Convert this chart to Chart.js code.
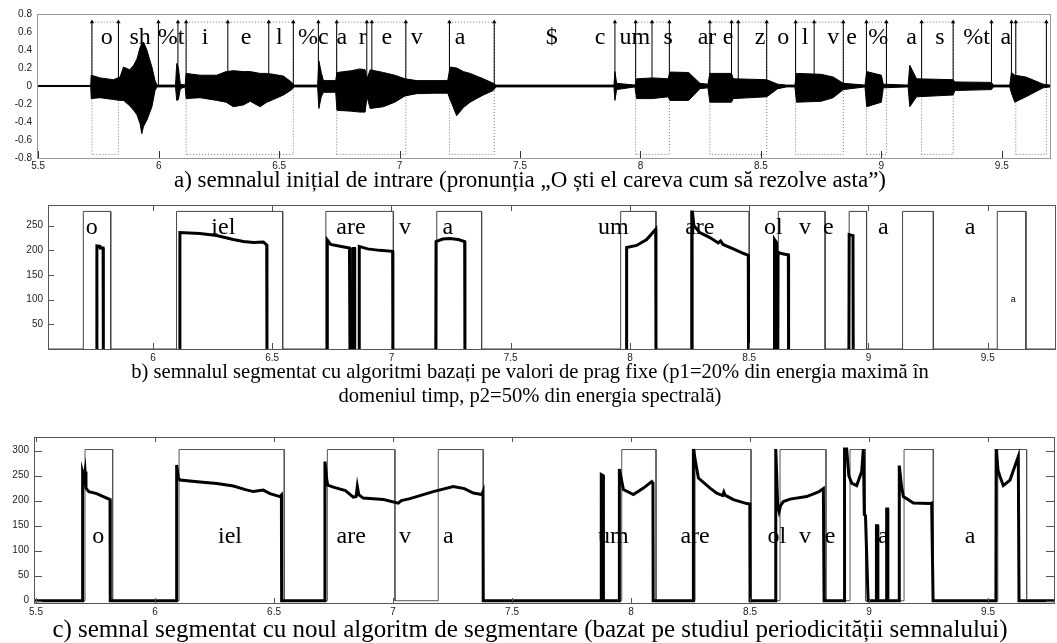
<!DOCTYPE html>
<html>
<head>
<meta charset="utf-8">
<script src="https://cdn.jsdelivr.net/npm/chart.js@4.4.1/dist/chart.umd.min.js"></script>
<style>
body { margin: 0; background: #fff; width: 1057px; height: 643px; position: relative; overflow: hidden; }
canvas { position: absolute; left: 0; }
.cap { position: absolute; left: 0; width: 1060px; text-align: center; font-family: 'Liberation Serif', 'Times New Roman', serif; font-size: 21px; line-height: 24px; color: #000; white-space: nowrap; }
</style>
</head>
<body>
<canvas id="chartA" width="1057" height="172" style="top:0px"></canvas>
<div class="cap" style="top:168px; font-size:23px">a) semnalul inițial de intrare (pronunția „O ști el careva cum să rezolve asta”)</div>
<canvas id="chartB" width="1057" height="173" style="top:190px"></canvas>
<div class="cap" style="top:359px; font-size:20.6px">b) semnalul segmentat cu algoritmi bazați pe valori de prag fixe (p1=20% din energia maximă în<br>domeniul timp, p2=50% din energia spectrală)</div>
<canvas id="chartC" width="1057" height="192" style="top:425px"></canvas>
<div class="cap" style="top:617px; font-size:25px">c) semnal segmentat cu noul algoritm de segmentare (bazat pe studiul periodicității semnalului)</div>

<script>
// ---------- a) input signal (envelope read off the plot) ----------
const waveTime = [5.495, 5.718, 5.720, 5.757, 5.812, 5.840, 5.854, 5.880, 5.896, 5.910, 5.923, 5.930, 5.937, 5.951, 5.972, 5.985, 5.993,
  6.070, 6.075, 6.082, 6.090, 6.110, 6.114, 6.172, 6.241, 6.280, 6.310, 6.352, 6.380, 6.421, 6.449, 6.476, 6.518, 6.553, 6.562,
  6.660, 6.665, 6.675, 6.684, 6.735, 6.740, 6.800, 6.836, 6.857, 6.865, 6.878, 6.933, 6.980, 7.023, 7.071, 7.150, 7.200,
  7.210, 7.237, 7.265, 7.293, 7.320, 7.348, 7.389, 7.400, 7.890, 7.894, 7.901, 7.977, 7.984, 8.050, 8.115, 8.122, 8.200,
  8.247, 8.280, 8.288, 8.378, 8.385, 8.524, 8.570, 8.607, 8.641, 8.648, 8.750, 8.800, 8.842, 8.932, 8.939, 9.000, 9.008,
  9.111, 9.118, 9.146, 9.298, 9.305, 9.457, 9.465, 9.533, 9.540, 9.554, 9.600, 9.672, 9.700];
const waveUpper = [0.006, 0.006, 0.12, 0.09, 0.07, 0.10, 0.21, 0.18, 0.23, 0.30, 0.43, 0.47, 0.49, 0.40, 0.21, 0.06, 0.01,
  0.01, 0.25, 0.20, 0.02, 0.01, 0.14, 0.12, 0.12, 0.16, 0.17, 0.16, 0.16, 0.14, 0.14, 0.13, 0.11, 0.04, 0.01,
  0.01, 0.28, 0.15, 0.06, 0.06, 0.15, 0.17, 0.19, 0.18, 0.08, 0.18, 0.15, 0.12, 0.08, 0.06, 0.06, 0.06,
  0.21, 0.20, 0.16, 0.14, 0.11, 0.08, 0.03, 0.01, 0.01, 0.16, 0.03, 0.01, 0.08, 0.09, 0.08, 0.155, 0.15,
  0.03, 0.02, 0.14, 0.14, 0.08, 0.07, 0.02, 0.01, 0.01, 0.14, 0.13, 0.10, 0.03, 0.01, 0.16, 0.12, 0.02,
  0.01, 0.23, 0.08, 0.07, 0.045, 0.04, 0.01, 0.01, 0.15, 0.12, 0.10, 0.02, 0.01];
const waveLower = [-0.006, -0.006, -0.14, -0.13, -0.15, -0.16, -0.16, -0.22, -0.27, -0.32, -0.42, -0.53, -0.45, -0.38, -0.23, -0.05, -0.01,
  -0.01, -0.16, -0.15, -0.03, -0.01, -0.14, -0.13, -0.16, -0.18, -0.23, -0.21, -0.17, -0.23, -0.18, -0.15, -0.10, -0.04, -0.01,
  -0.01, -0.25, -0.12, -0.07, -0.07, -0.27, -0.28, -0.29, -0.29, -0.12, -0.25, -0.23, -0.18, -0.11, -0.085, -0.08, -0.08,
  -0.15, -0.33, -0.24, -0.18, -0.14, -0.10, -0.05, -0.01, -0.01, -0.16, -0.04, -0.01, -0.14, -0.14, -0.12, -0.16, -0.16,
  -0.03, -0.02, -0.18, -0.18, -0.14, -0.12, -0.03, -0.01, -0.01, -0.18, -0.17, -0.13, -0.04, -0.01, -0.23, -0.18, -0.02,
  -0.01, -0.23, -0.12, -0.10, -0.05, -0.04, -0.01, -0.01, -0.08, -0.18, -0.12, -0.02, -0.01];

const markerTimes = [5.723, 5.833, 5.999, 6.080, 6.114, 6.287, 6.457, 6.559, 6.663, 6.739, 6.864, 6.885, 7.026, 7.207, 7.393,
  7.894, 7.980, 8.048, 8.120, 8.288, 8.378, 8.406, 8.524, 8.644, 8.721, 8.842, 8.938, 9.021, 9.167, 9.298, 9.457, 9.540, 9.558, 9.685];
const markerTop = 0.71;
const boxBottom = -0.76;
const boxStartA = [5.723, 6.114, 6.739, 7.207, 7.980, 8.288, 8.644, 8.938, 9.167, 9.558];
const boxEndA = [5.833, 6.559, 7.026, 7.393, 8.120, 8.524, 8.842, 9.021, 9.298, 9.685];
const phonemesA = ['o', 'sh', '%t', 'i', 'e', 'l', '%c', 'a', 'r', 'e', 'v', 'a', '$', 'c', 'um', 's', 'ar', 'e', 'z', 'o', 'l', 'v', 'e', '%', 'a', 's', '%t', 'a'];
const phonemeTimesA = [5.785, 5.923, 6.052, 6.193, 6.363, 6.501, 6.642, 6.760, 6.847, 6.947, 7.071, 7.251, 7.632, 7.832, 7.977, 8.115,
  8.276, 8.364, 8.496, 8.593, 8.683, 8.800, 8.876, 8.987, 9.125, 9.243, 9.395, 9.517];
const xTicksA = [5.5, 6, 6.5, 7, 7.5, 8, 8.5, 9, 9.5];
const yTicksA = [-0.8, -0.6, -0.4, -0.2, 0, 0.2, 0.4, 0.6, 0.8];

// ---------- b) fixed threshold segmentation ----------
const segStartB = [5.708, 6.099, 6.725, 7.190, 7.961, 8.265, 8.622, 8.919, 9.143, 9.540];
const segEndB = [5.823, 6.544, 7.008, 7.378, 8.109, 8.500, 8.818, 8.992, 9.272, 9.660];
const rectTopB = 279;
const energyTimeB = [5.764, 5.765, 5.778, 5.779, 5.791, 5.792, 5.80,
  6.112, 6.113, 6.197, 6.267, 6.337, 6.379, 6.421, 6.463, 6.472, 6.477, 6.478, 6.6,
  6.730, 6.731, 6.745, 6.790, 6.824, 6.826, 6.83,
  6.838, 6.839, 6.845, 6.846, 6.85,
  6.864, 6.865, 6.900, 6.950, 7.005, 7.006, 7.1,
  7.186, 7.187, 7.215, 7.245, 7.280, 7.307, 7.308, 7.5,
  7.985, 7.986, 8.028, 8.070, 8.108, 8.109, 8.2,
  8.258, 8.259, 8.262, 8.268, 8.293, 8.335, 8.370, 8.380, 8.390, 8.433, 8.470, 8.496, 8.497, 8.55,
  8.605, 8.606, 8.614, 8.615, 8.618,
  8.620, 8.621, 8.640, 8.650, 8.664, 8.665, 8.8,
  8.918, 8.919, 8.935, 8.936];
const energyValB = [0, 209, 208, 205, 205, 0, null,
  0, 236, 234, 230, 222, 218, 216, 217, 213, 211, 0, null,
  0, 221, 212, 208, 205, 0, null,
  0, 204, 204, 0, null,
  0, 208, 203, 200, 198, 0, null,
  0, 218, 223, 224, 222, 218, 0, null,
  0, 206, 210, 222, 243, 0, null,
  0, 278, 278, 250, 236, 226, 215, 219, 212, 203, 195, 190, 0, null,
  0, 222, 216, 0, null,
  0, 196, 193, 192, 191, 0, null,
  0, 232, 230, 0];
const labelsB = ['o', 'iel', 'are', 'v', 'a', 'um', 'are', 'ol', 'v', 'e', 'a', 'a'];
const labelTimesB = [5.743, 6.295, 6.830, 7.057, 7.236, 7.930, 8.293, 8.601, 8.734, 8.832, 9.062, 9.426];
const xTicksB = [6, 6.5, 7, 7.5, 8, 8.5, 9, 9.5];
const yTicksB = [50, 100, 150, 200, 250];

// ---------- c) periodicity based segmentation ----------
const segStartC = [5.706, 6.101, 6.724, 7.190, 7.961, 8.269, 8.626, 8.920, 9.147, 9.541];
const segEndC = [5.822, 6.543, 7.008, 7.379, 8.105, 8.504, 8.819, 8.985, 9.270, 9.662];
const rectTopC = 302;
const energyTimeC = [5.490, 5.695, 5.696, 5.702, 5.706, 5.710, 5.722, 5.755, 5.783, 5.811, 5.812,
  6.090, 6.091, 6.098, 6.105, 6.189, 6.260, 6.329, 6.380, 6.413, 6.455, 6.483, 6.525, 6.531, 6.532,
  6.713, 6.714, 6.722, 6.726, 6.749, 6.800, 6.833, 6.845, 6.850, 6.856, 6.875, 6.960, 7.022, 7.035, 7.071, 7.169, 7.253, 7.300, 7.337, 7.373, 7.378, 7.379,
  7.874, 7.875, 7.883, 7.884,
  7.950, 7.951, 7.968, 8.010, 8.052, 8.087, 8.092, 8.093,
  8.261, 8.262, 8.270, 8.283, 8.332, 8.360, 8.385, 8.390, 8.395, 8.430, 8.486, 8.499, 8.500,
  8.607, 8.608, 8.612, 8.616, 8.622, 8.628, 8.640, 8.668, 8.738, 8.790, 8.808, 8.811,
  8.895, 8.897, 8.906, 8.915, 8.927, 8.948, 8.969, 8.976, 8.980, 8.985, 8.996,
  9.030, 9.031, 9.036, 9.037, 9.073, 9.074, 9.078, 9.079,
  9.126, 9.127, 9.136, 9.144, 9.186, 9.256, 9.263, 9.269,
  9.533, 9.534, 9.542, 9.550, 9.564, 9.592, 9.627, 9.630, 9.777];
const energyValC = [0, 0, 256, 245, 258, 225, 218, 214, 208, 202, 0,
  0, 271, 245, 241, 237, 234, 229, 222, 218, 221, 214, 208, 211, 0,
  0, 278, 240, 231, 227, 220, 207, 208, 228, 212, 205, 202, 195, 200, 204, 218, 228, 224, 215, 212, 218, 0,
  0, 252, 250, 0,
  0, 263, 222, 212, 225, 238, 235, 0,
  0, 303, 280, 245, 225, 215, 210, 217, 211, 202, 194, 193, 0,
  0, 303, 250, 190, 178, 190, 198, 203, 208, 218, 224, 0,
  0, 303, 303, 250, 235, 230, 258, 303, 172, 170, 0,
  0, 150, 150, 0, 0, 183, 183, 0,
  0, 270, 230, 208, 195, 194, 195, 0,
  0, 303, 260, 248, 230, 241, 288, 0, 0];
const labelsC = ['o', 'iel', 'are', 'v', 'a', 'um', 'are', 'ol', 'v', 'e', 'a', 'a'];
const labelTimesC = [5.762, 6.315, 6.824, 7.050, 7.232, 7.926, 8.269, 8.612, 8.731, 8.836, 9.060, 9.424];
const xTicksC = [5.5, 6, 6.5, 7, 7.5, 8, 8.5, 9, 9.5];
const yTicksC = [0, 50, 100, 150, 200, 250, 300];

// ---------- helpers ----------
function pts(xs, ys) {
  return xs.map((x, i) => ({ x: x, y: ys[i] }));
}

function squareWave(starts, ends, top, x0, x1) {
  const out = [{ x: x0, y: 0 }];
  starts.forEach((s, i) => {
    out.push({ x: s, y: 0 }, { x: s, y: top }, { x: ends[i], y: top }, { x: ends[i], y: 0 });
  });
  out.push({ x: x1, y: 0 });
  return out;
}

// box + inward tick marks, like the matlab axes
const framePlugin = {
  id: 'frame',
  afterDraw(chart, args, o) {
    const { ctx, chartArea: a, scales: { x, y } } = chart;
    ctx.save();
    ctx.strokeStyle = o.color;
    ctx.lineWidth = 1;
    ctx.strokeRect(a.left + 0.5, a.top + 0.5, a.right - a.left, a.bottom - a.top);
    ctx.strokeStyle = o.tickColor || o.color;
    ctx.beginPath();
    o.xTicks.forEach(v => {
      const px = Math.round(x.getPixelForValue(v)) + 0.5;
      if (o.xBottom) { ctx.moveTo(px, a.bottom); ctx.lineTo(px, a.bottom - o.xLen); }
      if (o.xTop) { ctx.moveTo(px, a.top); ctx.lineTo(px, a.top + o.xLen); }
    });
    o.yTicks.forEach(v => {
      const py = Math.round(y.getPixelForValue(v)) + 0.5;
      if (o.yLeft) { ctx.moveTo(a.left, py); ctx.lineTo(a.left + o.yLen, py); }
      if (o.yRight) { ctx.moveTo(a.right, py); ctx.lineTo(a.right - o.yLen, py); }
    });
    ctx.stroke();
    ctx.restore();
  }
};

// phoneme labels placed with the chart's own scales
const textPlugin = {
  id: 'phonemes',
  afterDatasetsDraw(chart, args, o) {
    const { ctx, scales: { x, y } } = chart;
    ctx.save();
    ctx.fillStyle = '#000';
    ctx.textAlign = 'center';
    ctx.textBaseline = 'alphabetic';
    ctx.font = o.font;
    o.labels.forEach((s, i) => {
      ctx.fillText(s, x.getPixelForValue(o.times[i]), y.getPixelForValue(o.level));
    });
    if (o.small) {
      ctx.font = o.small.font;
      ctx.textBaseline = 'middle';
      ctx.fillText(o.small.text, x.getPixelForValue(o.small.x), y.getPixelForValue(o.small.y));
    }
    ctx.restore();
  }
};

const tickFont = { family: "'Liberation Sans', Arial, sans-serif", size: 10 };
const serif = "24px 'Liberation Serif', 'Times New Roman', serif";

function xAxis(min, max, ticks, height, pad) {
  return {
    type: 'linear', min: min, max: max,
    afterBuildTicks: s => { s.ticks = ticks.map(v => ({ value: v })); },
    afterFit: s => { s.height = height; },
    grid: { display: false, drawTicks: false },
    border: { display: false },
    ticks: { font: tickFont, color: '#222', padding: pad, maxRotation: 0, autoSkip: false, callback: v => String(v) }
  };
}

function yAxis(min, max, ticks, width, fmt) {
  return {
    min: min, max: max,
    afterBuildTicks: s => { s.ticks = ticks.map(v => ({ value: v })); },
    afterFit: s => { s.width = width; },
    grid: { display: false, drawTicks: false },
    border: { display: false },
    ticks: { font: tickFont, color: '#222', padding: 5, autoSkip: false, callback: fmt }
  };
}

Chart.defaults.animation = false;

// ---------- chart a ----------
const markerPts = [];
markerTimes.forEach(t => markerPts.push({ x: t, y: 0 }, { x: t, y: markerTop }, { x: t, y: null }));
const boxPts = [];
boxStartA.forEach((s, i) => {
  const e = boxEndA[i];
  boxPts.push({ x: s, y: boxBottom }, { x: s, y: markerTop }, { x: e, y: markerTop }, { x: e, y: boxBottom }, { x: s, y: boxBottom }, { x: s, y: null });
});

new Chart(document.getElementById('chartA'), {
  type: 'line',
  data: {
    datasets: [
      { data: markerPts, borderColor: '#000', borderWidth: 1, spanGaps: false,
        pointStyle: 'triangle', pointBackgroundColor: '#000', pointBorderWidth: 0,
        pointRadius: c => (c.raw && c.raw.y === markerTop) ? 2.5 : 0 },
      { data: pts(waveTime, waveUpper), borderColor: '#000', borderWidth: 1, pointRadius: 0, fill: '+1', backgroundColor: '#000' },
      { data: pts(waveTime, waveLower), borderColor: '#000', borderWidth: 1, pointRadius: 0, fill: false },
      { data: boxPts, borderColor: '#777', borderWidth: 1, borderDash: [1, 2], pointRadius: 0, spanGaps: false }
    ]
  },
  options: {
    responsive: false, devicePixelRatio: 1,
    layout: { padding: { top: 14, right: 7, left: 0, bottom: 0 } },
    scales: {
      x: xAxis(5.495, 9.70, xTicksA, 14, 2),
      y: yAxis(-0.8, 0.8, yTicksA, 37, v => v === 0 ? '0' : v.toFixed(1))
    },
    plugins: {
      legend: { display: false }, tooltip: { enabled: false },
      frame: { color: '#999', tickColor: '#333', xTicks: xTicksA, yTicks: [], xBottom: true, xLen: 7 },
      phonemes: { labels: phonemesA, times: phonemeTimesA, level: 0.47, font: serif }
    }
  },
  plugins: [framePlugin, textPlugin]
});

// ---------- chart b ----------
new Chart(document.getElementById('chartB'), {
  type: 'line',
  data: {
    datasets: [
      { data: pts(energyTimeB, energyValB), borderColor: '#000', borderWidth: 3, pointRadius: 0, spanGaps: false },
      { data: squareWave(segStartB, segEndB, rectTopB, 5.56, 9.79), borderColor: '#444', borderWidth: 1, pointRadius: 0 }
    ]
  },
  options: {
    responsive: false, devicePixelRatio: 1,
    layout: { padding: { top: 15, right: 2, left: 0, bottom: 0 } },
    scales: {
      x: xAxis(5.56, 9.782, xTicksB, 14, 3),
      y: yAxis(0, 292, yTicksB, 48, v => String(v))
    },
    plugins: {
      legend: { display: false }, tooltip: { enabled: false },
      frame: { color: '#555', xTicks: xTicksB, yTicks: yTicksB, xBottom: true, xTop: true, xLen: 6, yLeft: true, yLen: 6 },
      phonemes: { labels: labelsB, times: labelTimesB, level: 234, font: serif,
        small: { text: 'a', x: 9.607, y: 100, font: "9px 'Liberation Sans', Arial, sans-serif" } }
    }
  },
  plugins: [framePlugin, textPlugin]
});

// ---------- chart c ----------
new Chart(document.getElementById('chartC'), {
  type: 'line',
  data: {
    datasets: [
      { data: pts(energyTimeC, energyValC), borderColor: '#000', borderWidth: 3, pointRadius: 0 },
      { data: squareWave(segStartC, segEndC, rectTopC, 5.49, 9.78), borderColor: '#555', borderWidth: 1, pointRadius: 0 }
    ]
  },
  options: {
    responsive: false, devicePixelRatio: 1,
    layout: { padding: { top: 12, right: 3, left: 0, bottom: 0 } },
    scales: {
      x: xAxis(5.4916, 9.777, xTicksC, 14, 3),
      y: yAxis(-4.5, 327, yTicksC, 34, v => String(v))
    },
    plugins: {
      legend: { display: false }, tooltip: { enabled: false },
      frame: { color: '#555', xTicks: xTicksC, yTicks: yTicksC, xBottom: true, xTop: true, xLen: 5, yLeft: true, yRight: true, yLen: 8 },
      phonemes: { labels: labelsC, times: labelTimesC, level: 115, font: serif }
    }
  },
  plugins: [framePlugin, textPlugin]
});
</script>
</body>
</html>
